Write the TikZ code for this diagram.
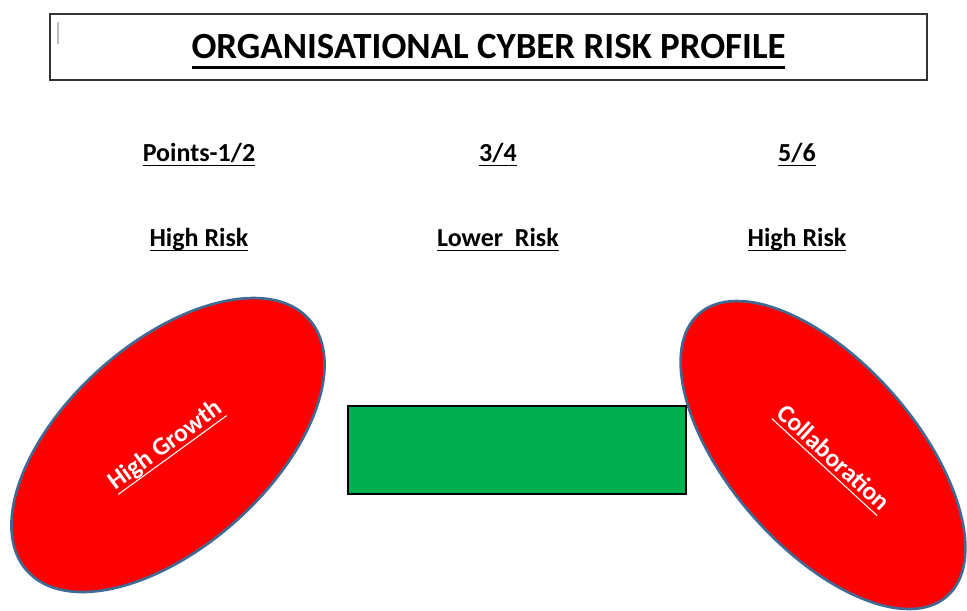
\documentclass[tikz,border=0pt]{standalone}
\usepackage{fontspec}
\setmainfont{Carlito}
\usetikzlibrary{shapes.geometric}

\definecolor{riskred}{HTML}{FF0000}
\definecolor{lowgreen}{HTML}{00B050}
\definecolor{ovalline}{HTML}{3E6A94}

% underline with given thickness and depth
\newsavebox{\riskulbox}
\newcommand{\riskul}[3]{\sbox{\riskulbox}{#3}\rlap{\rule[-#2]{\wd\riskulbox}{#1}}\usebox{\riskulbox}}

\tikzset{
  heading/.style={font=\bfseries\fontsize{14.8}{16}\selectfont, anchor=base},
  riskoval/.style={ellipse, draw=ovalline, fill=riskred, line width=1.5pt, inner sep=0pt},
  ovaltext/.style={text=white, font=\bfseries\fontsize{14.5}{17}\selectfont}
}

\begin{document}
\begin{tikzpicture}[x=0.02cm, y=-0.02cm]
      \useasboundingbox (0, 0) rectangle (967, 610);

      \node[draw=black!80, line width=0.8pt, minimum width=17.54cm, minimum height=1.32cm, inner sep=0pt] (title) at (488.5, 47) {};
      \node[font=\bfseries\fontsize{21}{24}\selectfont, anchor=base] (titletext) at (488.5, 58) {\riskul{1.7pt}{6pt}{ORGANISATIONAL CYBER RISK PROFILE}};
      \draw[black!25, line width=0.6pt] (58, 22) -- (58, 44);

      \node[heading] (p12) at (199, 161) {\riskul{1pt}{3pt}{Points-1/2}};
      \node[heading] (p34) at (498, 161) {\riskul{1pt}{3pt}{3/4}};
      \node[heading] (p56) at (797, 161) {\riskul{1pt}{3pt}{5/6}};
      \node[heading] (r12) at (199, 246) {\riskul{1pt}{3pt}{High Risk}};
      \node[heading] (r34) at (498, 246) {\riskul{1pt}{3pt}{Lower\ \ Risk}};
      \node[heading] (r56) at (797, 246) {\riskul{1pt}{3pt}{High Risk}};

      \node[riskoval, minimum width=7.56cm, minimum height=4.08cm, rotate=41.7] (growth) at (168, 445) {};
      \node[riskoval, minimum width=7.52cm, minimum height=3.72cm, rotate=-48.7] (collab) at (823, 455) {};
      \node[draw=black, fill=lowgreen, line width=1.3pt, minimum width=6.76cm, minimum height=1.76cm] (lower) at (517, 450) {};

      \node[ovaltext, rotate=36] (growthtext) at (166, 446) {\riskul{0.6pt}{3pt}{High Growth}};
      \node[ovaltext, rotate=-42.7] (collabtext) at (832, 459) {\riskul{0.6pt}{3pt}{Collaboration}};
\end{tikzpicture}
\end{document}
